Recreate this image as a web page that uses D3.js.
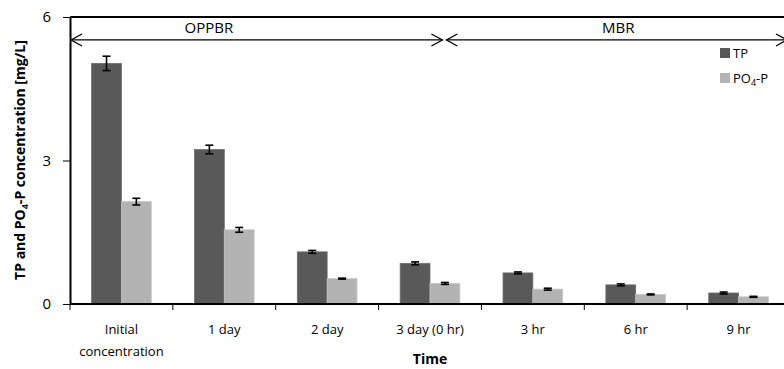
<!DOCTYPE html>
<html>
<head>
<meta charset="utf-8">
<script src="https://cdn.jsdelivr.net/npm/d3@7"></script>
<style>
body { margin: 0; background: #fff; }
svg { display: block; font-family: "Open Sans", Lato, sans-serif; }
.axis path, .axis line { stroke: #000; }
.axis text { fill: #000; font-family: "Open Sans", Lato, sans-serif; }
</style>
</head>
<body>
<svg id="chart"></svg>
<script>
var categories = [["Initial", "concentration"], ["1 day"], ["2 day"], ["3 day (0 hr)"], ["3 hr"], ["6 hr"], ["9 hr"]];
var tpValues = [5.03, 3.23, 1.09, 0.85, 0.65, 0.40, 0.23];
var tpErrors = [0.15, 0.09, 0.03, 0.03, 0.02, 0.02, 0.02];
var po4Values = [2.14, 1.55, 0.53, 0.43, 0.31, 0.20, 0.15];
var po4Errors = [0.07, 0.05, 0.01, 0.02, 0.02, 0.01, 0.01];
var yTicks = [0, 3, 6];
var seriesNames = ["TP", "PO4-P"];

var w = 784, h = 369;
var margin = { top: 17, right: -6, bottom: 65, left: 70 },
    width = w - margin.left - margin.right,
    height = h - margin.top - margin.bottom;

var svg = d3.select("#chart").attr("width", w).attr("height", h);
var g = svg.append("g").attr("transform", "translate(" + margin.left + "," + margin.top + ")");

var idx = d3.range(categories.length);
var x = d3.scaleBand().domain(idx).range([0, width]).paddingInner(0).paddingOuter(0);
var x1 = d3.scaleBand().domain(seriesNames).range([x.bandwidth() * 0.21, x.bandwidth() * 0.79]);
var y = d3.scaleLinear().domain([0, 6]).range([height, 0]);

var colors = { "TP": "#595959", "PO4-P": "#b3b3b3" };

// bars
var rows = [];
idx.forEach(function(i) {
    rows.push({ i: i, s: "TP", v: tpValues[i], e: tpErrors[i] });
    rows.push({ i: i, s: "PO4-P", v: po4Values[i], e: po4Errors[i] });
});

g.selectAll(".bar")
    .data(rows)
    .enter()
    .append("rect")
    .attr("class", "bar")
    .attr("x", function(d) { return x(d.i) + x1(d.s); })
    .attr("y", function(d) { return y(d.v); })
    .attr("width", x1.bandwidth())
    .attr("height", function(d) { return y(0) - y(d.v); })
    .attr("fill", function(d) { return colors[d.s]; })
    .attr("stroke", function(d) { return d.s === "TP" ? "#6e6e6e" : "#c4c4c4"; })
    .attr("stroke-width", 0.8);

// error bars
var eb = g.selectAll(".err").data(rows).enter().append("g").attr("class", "err")
    .attr("stroke", "#000").attr("stroke-width", 1.6);
eb.append("line")
    .attr("x1", function(d) { return x(d.i) + x1(d.s) + x1.bandwidth() / 2; })
    .attr("x2", function(d) { return x(d.i) + x1(d.s) + x1.bandwidth() / 2; })
    .attr("y1", function(d) { return y(d.v + d.e); })
    .attr("y2", function(d) { return y(d.v - d.e); });
[1, -1].forEach(function(sgn) {
    eb.append("line")
        .attr("x1", function(d) { return x(d.i) + x1(d.s) + x1.bandwidth() / 2 - 4; })
        .attr("x2", function(d) { return x(d.i) + x1(d.s) + x1.bandwidth() / 2 + 4; })
        .attr("y1", function(d) { return y(d.v + sgn * d.e); })
        .attr("y2", function(d) { return y(d.v + sgn * d.e); });
});

// y axis
var yAxis = g.append("g").attr("class", "axis y-axis")
    .call(d3.axisLeft(y).tickValues(yTicks).tickFormat(d3.format("d")).tickSize(7).tickSizeOuter(0).tickPadding(12));
yAxis.select(".domain").attr("stroke-width", 2);
yAxis.selectAll("text").style("font-size", "15px");

// x axis with ticks between categories
var xb = g.append("g").attr("class", "axis x-axis").attr("transform", "translate(0," + height + ")");
xb.append("line").attr("x1", 0).attr("x2", width).attr("stroke", "#000").attr("stroke-width", 2);
xb.selectAll(".tk").data(d3.range(categories.length + 1)).enter().append("line")
    .attr("x1", function(d) { return d * x.step(); })
    .attr("x2", function(d) { return d * x.step(); })
    .attr("y1", 0).attr("y2", 6).attr("stroke", "#555");
var lab = xb.selectAll(".lab").data(idx).enter().append("text")
    .attr("text-anchor", "middle")
    .attr("x", function(d) { return x(d) + x.bandwidth() / 2; })
    .attr("y", 30)
    .style("font-size", "13px");
lab.selectAll("tspan").data(function(d) { return categories[d]; }).enter().append("tspan")
    .attr("x", function() { return d3.select(this.parentNode).attr("x"); })
    .attr("dy", function(d, k) { return k === 0 ? 0 : 22; })
    .text(function(d) { return d; });

// top border
g.append("line").attr("x1", 0).attr("x2", width).attr("y1", 0).attr("y2", 0)
    .attr("stroke", "#000").attr("stroke-width", 2);

// phase arrows
var arrowY = y(5.52);
var splitX = x(3) + x.bandwidth() * 0.64;
function arrowHead(px, dir) {
    g.append("path")
        .attr("d", "M" + (px + dir * 11) + "," + (arrowY - 6) + "L" + px + "," + arrowY + "L" + (px + dir * 11) + "," + (arrowY + 6))
        .attr("fill", "none").attr("stroke", "#000").attr("stroke-width", 1.3);
}
g.append("line").attr("x1", 1).attr("x2", splitX - 2).attr("y1", arrowY).attr("y2", arrowY)
    .attr("stroke", "#000").attr("stroke-width", 1.3);
g.append("line").attr("x1", splitX + 2).attr("x2", width).attr("y1", arrowY).attr("y2", arrowY)
    .attr("stroke", "#000").attr("stroke-width", 1.3);
arrowHead(1, 1);
arrowHead(splitX - 2, -1);
arrowHead(splitX + 2, 1);
arrowHead(width - 3, -1);

g.append("text").attr("x", x(1) + x.bandwidth() * 0.35).attr("y", arrowY - 7)
    .attr("text-anchor", "middle").style("font-size", "15px").text("OPPBR");
g.append("text").attr("x", x(5) + x.bandwidth() * 0.33).attr("y", arrowY - 7)
    .attr("text-anchor", "middle").style("font-size", "15px").text("MBR");

// legend
var legX = 720, legY = 48;
var leg = svg.append("g").attr("transform", "translate(" + legX + "," + legY + ")");
seriesNames.forEach(function(s, k) {
    leg.append("rect").attr("x", 0).attr("y", k * 25).attr("width", 10).attr("height", 10)
        .attr("fill", colors[s]);
});
leg.append("text").attr("x", 13).attr("y", 10).style("font-size", "13px").text("TP");
var t2 = leg.append("text").attr("x", 13).attr("y", 35).style("font-size", "13px");
t2.append("tspan").text("PO");
t2.append("tspan").attr("dy", 3).style("font-size", "9px").text("4");
t2.append("tspan").attr("dy", -3).text("-P");

// axis titles
svg.append("text").attr("x", 430).attr("y", 364).attr("text-anchor", "middle")
    .style("font-size", "14px").style("font-weight", "bold").text("Time");
var yt = svg.append("text").attr("transform", "translate(25," + 160 + ") rotate(-90)")
    .attr("text-anchor", "middle").style("font-size", "14px").style("font-weight", "bold");
yt.append("tspan").text("TP and PO");
yt.append("tspan").attr("dy", 3).style("font-size", "9px").text("4");
yt.append("tspan").attr("dy", -3).text("-P concentration  [mg/L]");
</script>
</body>
</html>
